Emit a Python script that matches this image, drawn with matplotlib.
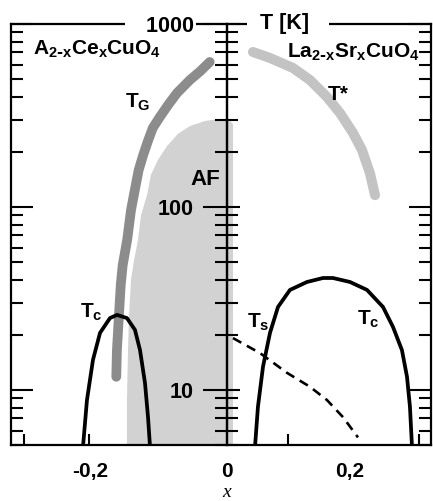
import numpy as np
import matplotlib
matplotlib.use("Agg")
import matplotlib.pyplot as plt
from matplotlib.ticker import NullFormatter

plt.rcParams['font.family'] = ['Liberation Sans', 'DejaVu Sans']
plt.rcParams['font.weight'] = 'bold'
plt.rcParams['mathtext.default'] = 'regular'

# ---- values (x = doping, T in K) ----
# glass line T_G, electron-doped side
tg_x = [-0.027, -0.042, -0.058, -0.078, -0.092, -0.105, -0.116, -0.123, -0.131, -0.138,
        -0.144, -0.150, -0.156, -0.163, -0.166, -0.169, -0.172, -0.173]
tg_T = [620, 551, 494, 420, 361, 310, 270, 232, 192, 159,
        124, 96, 66, 48, 37.5, 25, 16.5, 11.8]

# antiferromagnetic region (outline)
af_x = [0.0094, 0.0094, 0.0031, -0.0109, -0.0344, -0.0578, -0.0766, -0.0938, -0.1078,
        -0.1188, -0.125, -0.1344, -0.1391, -0.1453, -0.150, -0.1531, -0.1547, -0.1563, -0.1563]
af_T = [5, 284, 299, 303, 295, 277, 251, 215, 181,
        150, 116, 90, 66, 51, 40, 25, 16.5, 8.8, 5]

# superconducting dome, electron-doped
tc_e_x = [-0.225, -0.2188, -0.2094, -0.1984, -0.1828, -0.1719, -0.1563, -0.1438, -0.1359, -0.1281, -0.1234, -0.1203]
tc_e_T = [4.9, 8.8, 14.6, 20.5, 24.7, 25.7, 24.7, 21.3, 16.5, 10.9, 7.1, 4.9]

# superconducting dome, La2-xSrxCuO4
tc_h_x = [0.0438, 0.0484, 0.0563, 0.0672, 0.0797, 0.0984, 0.125, 0.150, 0.1656, 0.1922,
          0.2188, 0.2438, 0.2594, 0.2734, 0.2813, 0.2859, 0.2891]
tc_h_T = [4.9, 8.1, 13.4, 20.5, 28.4, 35.2, 38.9, 40.9, 40.9, 38.9,
          35.2, 28.4, 22.1, 16.5, 11.8, 8.1, 4.9]

# structural transition T_s
ts_x = [0.0094, 0.0516, 0.0938, 0.1297, 0.1563, 0.1813, 0.2047]
ts_T = [19.2, 15.9, 12.4, 10.4, 8.8, 7.1, 5.5]

# pseudogap T*
tstar_x = [0.0406, 0.0672, 0.1031, 0.1297, 0.1563, 0.1766, 0.1969, 0.2109, 0.2234, 0.2313]
tstar_T = [703, 652, 575, 494, 399, 326, 254, 205, 153, 116]

x_lim = (-0.3375, 0.3188)
T_lim = (5, 1000)
x_label_pos = [-0.214, 0.0, 0.192]
x_label_txt = ['-0,2', '0', '0,2']
x_minor = [-0.317, -0.2156, 0.0953, 0.300]
T_major = [10, 100, 1000]
T_major_txt = ['10', '100', '1000']


fig = plt.figure(figsize=(4.33, 5.01), dpi=100)
ax = fig.add_axes([11/433, 56/501, 420/433, 421/501])

ax.fill(af_x, af_T, color='#d2d2d2', lw=0, zorder=1)
ax.plot(tg_x, tg_T, color='#8c8c8c', lw=7, solid_capstyle='round', solid_joinstyle='round', zorder=2)
ax.plot(tstar_x, tstar_T, color='#c3c3c3', lw=7.2, solid_capstyle='round', solid_joinstyle='round', zorder=2)
ax.plot(tc_e_x, tc_e_T, color='black', lw=2.7, zorder=3)
ax.plot(tc_h_x, tc_h_T, color='black', lw=2.7, zorder=3)
ax.plot(ts_x, ts_T, color='black', lw=1.9, linestyle=(0, (3.6, 2.4)), zorder=3)

ax.set_yscale('log')
ax.set_xlim(x_lim)
ax.set_ylim(T_lim)

for s in ax.spines.values():
    s.set_linewidth(1.6)

ax.yaxis.set_ticks_position('both')
ax.tick_params(axis='y', which='major', direction='in', length=16, width=1.5,
               labelleft=False, labelright=False)
ax.tick_params(axis='y', which='minor', direction='in', length=8.6, width=1.5,
               labelleft=False, labelright=False)
ax.yaxis.set_minor_formatter(NullFormatter())

ax.set_xticks(x_label_pos, labels=x_label_txt)
ax.set_xticks(x_minor, minor=True)
ax.tick_params(axis='x', which='major', length=0, labelsize=15, pad=12)
ax.tick_params(axis='x', which='minor', direction='in', length=8, width=1.5)

# the middle T axis at x = 0
x0 = (0 - x_lim[0]) / (x_lim[1] - x_lim[0])
mid_labels = T_major_txt[:-1] + ['   ' + T_major_txt[-1]]  # gap in the top frame line
mid = ax.secondary_yaxis(x0)
mid.yaxis.set_ticks_position('left')
mid.set_ticks(T_major, labels=mid_labels)
mid.tick_params(which='major', direction='out', length=17, width=1.5, labelsize=15.5, pad=7,
                labelleft=True, labelright=False)
mid.tick_params(which='minor', direction='out', length=8.6, width=1.5)
mid.yaxis.set_minor_formatter(NullFormatter())
for s in mid.spines.values():
    s.set_linewidth(1.6)
mid.patch.set_visible(False)
# only the top label sits on the frame line and needs a white backing
mid.get_yticklabels()[-1].set_bbox(dict(facecolor='white', edgecolor='none', pad=2))
mid.set_zorder(4)

mid2 = ax.secondary_yaxis(x0)
mid2.yaxis.set_ticks_position('left')
mid2.set_ticks(T_major, labels=['', '', ''])
mid2.tick_params(which='major', direction='in', length=9.4, width=1.5,
                 labelleft=False, labelright=False)
mid2.tick_params(which='minor', direction='in', length=8, width=1.5,
                 labelleft=False, labelright=False)
mid2.yaxis.set_minor_formatter(NullFormatter())
for s in mid2.spines.values():
    s.set_linewidth(1.6)
mid2.patch.set_visible(False)
mid2.set_zorder(4)

ax.text(0.0953, 1000, '  T [K]   ', fontsize=15.5, ha='center', va='center', zorder=5,
        bbox=dict(facecolor='white', edgecolor='none', pad=1))

ax.text(-0.303, 677, r'A$_{2\text{-}x}$Ce$_x$CuO$_4$', fontsize=15)
ax.text(0.094, 652, r'La$_{2\text{-}x}$Sr$_x$CuO$_4$', fontsize=15)
ax.text(-0.159, 348, r'T$_G$', fontsize=15)
ax.text(0.158, 384, r'T*', fontsize=15)
ax.text(-0.0578, 132, 'AF', fontsize=16)
ax.text(-0.2297, 24.7, r'T$_c$', fontsize=15)
ax.text(0.031, 21.8, r'T$_s$', fontsize=15)
ax.text(0.203, 22.6, r'T$_c$', fontsize=15)

ax.set_xlabel('x', fontfamily='Liberation Serif', fontstyle='italic',
              fontweight='normal', fontsize=14)
ax.xaxis.set_label_coords(x0, -0.092)

fig.savefig('out.png', dpi=100)
